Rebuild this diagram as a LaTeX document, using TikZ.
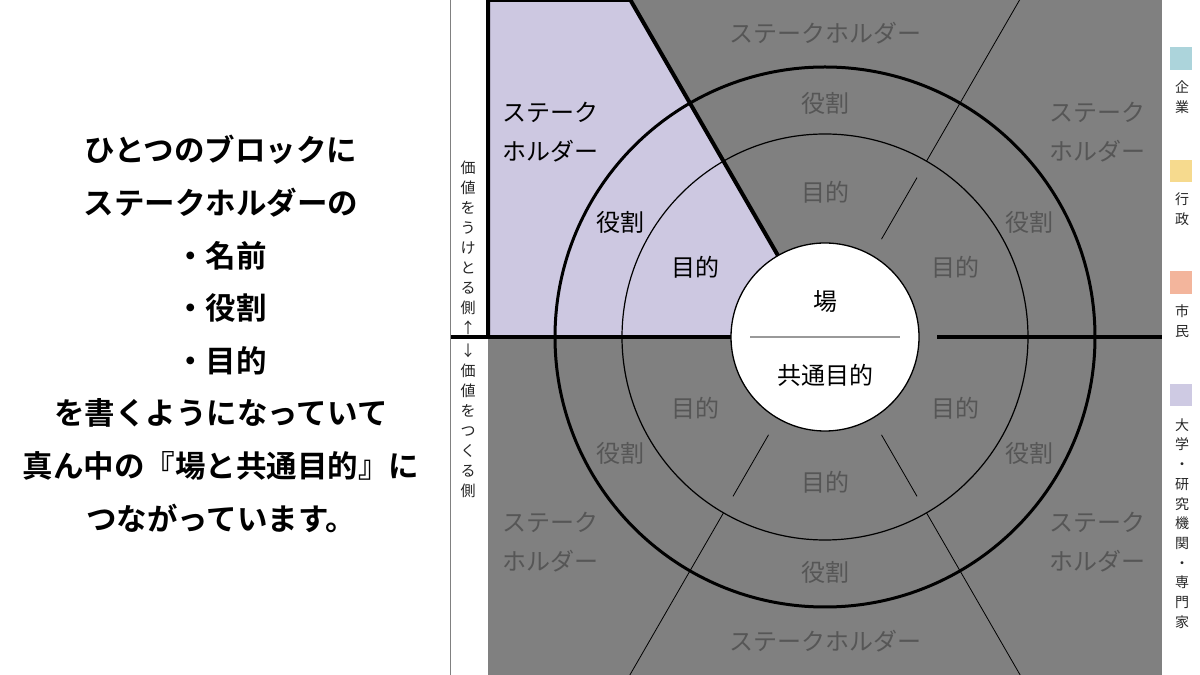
\documentclass[tikz,border=0pt]{standalone}
\usepackage{fontspec}
\setmainfont{Noto Sans CJK JP}[BoldFont={* Bold}]
\usetikzlibrary{calc}
\definecolor{sqgray}{RGB}{128,128,128}
\definecolor{txtgray}{RGB}{86,86,86}
\definecolor{lav}{RGB}{205,200,225}
\definecolor{lgblue}{RGB}{172,212,219}
\definecolor{lgyellow}{RGB}{246,218,142}
\definecolor{lgsalmon}{RGB}{243,181,156}
\definecolor{lglav}{RGB}{206,202,227}
\begin{document}
\begin{tikzpicture}[x=1pt,y=1pt,
  lbl/.style={text=txtgray, font=\fontsize{24}{38.5}\selectfont, align=center, inner sep=0pt},
  lblk/.style={lbl, text=black},
  vlbl/.style={text=black!85, font=\fontsize{15}{20}\selectfont, align=center, inner sep=0pt},
  leg/.style={text=black!85, font=\fontsize{14}{19.7}\selectfont, align=center, inner sep=0pt},
  bline/.style={line width=3.5pt, draw=black},
  tline/.style={line width=0.8pt, draw=black}
]
\useasboundingbox (0,0) rectangle (1200,675);
\fill[white] (0,0) rectangle (1200,675);
\coordinate (C) at (825,338);
% background square and lavender sector
\fill[sqgray] (488,0) rectangle (1162,675);
\fill[lav] (488,675) -- (630.4,675) -- (C) -- (488,338) -- cycle;
% thin radial dividers
\begin{scope}
  \clip (488,0) rectangle (1162,675);
  \foreach \a in {60,240,300} {
    \draw[tline] ($(C)+(\a:113)$) -- ($(C)+(\a:184)$);
    \draw[tline] ($(C)+(\a:203)$) -- ($(C)+(\a:400)$);
  }
\end{scope}
% rings
\draw[line width=1.2pt] (C) circle (203);
\draw[line width=3pt] (C) circle (270);
% thick dividers
\draw[bline] (450,338) -- (C);
\draw[bline] (937,338) -- (1162,338);
\draw[line width=4pt, line join=miter] (488,338) -- (488,675) -- (630.4,675) -- (C);
% left thin vertical
\draw[line width=0.8pt, draw=gray] (450,0) -- (450,675);
% core circle
\draw[fill=white, line width=1.3pt] (C) circle (94);
\draw[draw=black!40, line width=1.2pt] (750,338) -- (900,338);
\node[lblk] (ba) at (825,373) {場};
\node[lblk] (kyotsu) at (825,300) {共通目的};
% top-left (lavender)
\node[lblk] (tlS) at (550,543) {ステーク\\ホルダー};
\node[lblk] (tlR) at (620,453) {役割};
\node[lblk] (tlP) at (695,408) {目的};
% top
\node[lbl] (tS) at (825,642) {ステークホルダー};
\node[lbl] (tR) at (825,572) {役割};
\node[lbl] (tP) at (825,483) {目的};
% top-right
\node[lbl] (trS) at (1097,543) {ステーク\\ホルダー};
\node[lbl] (trR) at (1029,453) {役割};
\node[lbl] (trP) at (955,408) {目的};
% bottom-right
\node[lbl] (brS) at (1097,133) {ステーク\\ホルダー};
\node[lbl] (brR) at (1029,222) {役割};
\node[lbl] (brP) at (955,267) {目的};
% bottom
\node[lbl] (bS) at (825,34) {ステークホルダー};
\node[lbl] (bR) at (825,103) {役割};
\node[lbl] (bP) at (825,193) {目的};
% bottom-left
\node[lbl] (blS) at (550,133) {ステーク\\ホルダー};
\node[lbl] (blR) at (620,222) {役割};
\node[lbl] (blP) at (695,267) {目的};
% side labels
\node[vlbl] (recv) at (468,427) {価\\値\\を\\う\\け\\と\\る\\側\\↑};
\node[vlbl] (make) at (468,254) {↓\\価\\値\\を\\つ\\く\\る\\側};
% legend
\fill[lgblue] (1170,605) rectangle (1192,628);
\node[leg] (kigyo) at (1182,577.5) {企\\業};
\fill[lgyellow] (1170,493) rectangle (1192,515);
\node[leg] (gyosei) at (1182,465.5) {行\\政};
\fill[lgsalmon] (1170,381) rectangle (1192,404);
\node[leg] (shimin) at (1182,354) {市\\民};
\fill[lglav] (1170,269) rectangle (1192,291);
\node[leg] (daigaku) at (1182,151.5) {大\\学\\・\\研\\究\\機\\関\\・\\専\\門\\家};
% explanatory text
\node[font=\bfseries\fontsize{30.5}{52.6}\selectfont, align=center, inner sep=0pt] (msg) at (221,341)
  {ひとつのブロックに\\ステークホルダーの\\・名前\\・役割\\・目的\\を書くようになっていて\\真ん中の『場と共通目的』に\\つながっています。};
\end{tikzpicture}
\end{document}
